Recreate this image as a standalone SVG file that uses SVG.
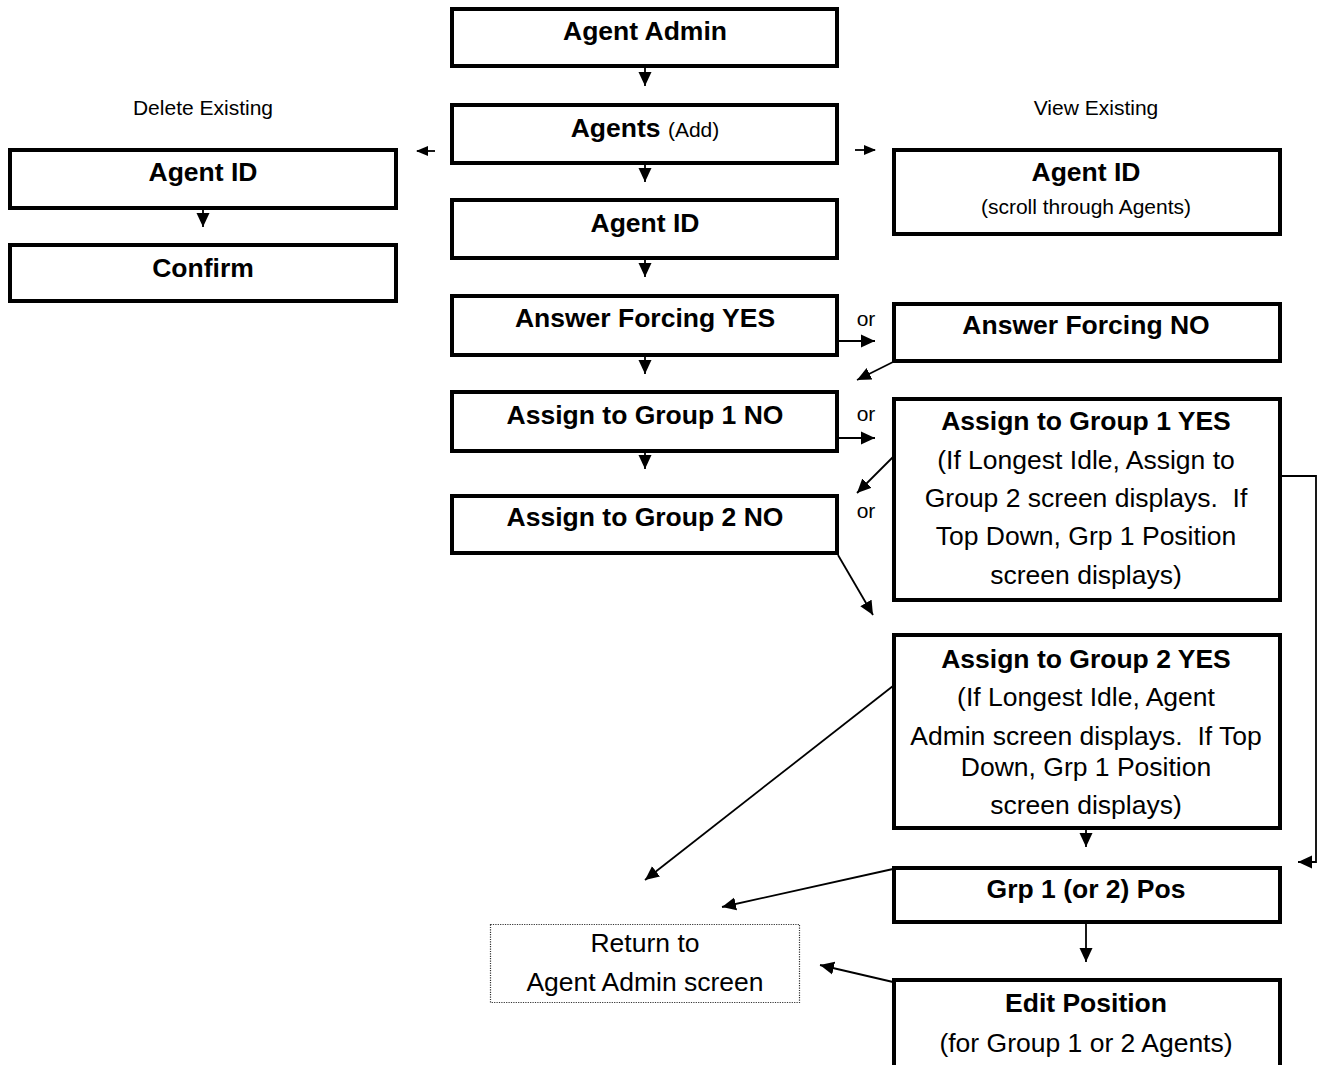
<svg xmlns="http://www.w3.org/2000/svg" width="1319" height="1065" viewBox="0 0 1319 1065">
<style>
.box{fill:#fff;stroke:#000;stroke-width:4}
.ret{fill:#fff;stroke:#333;stroke-width:1.2;stroke-dasharray:1.2 1.2}
.t{font-family:"Liberation Sans",Arial,sans-serif;font-weight:bold;font-size:26.5px;text-anchor:middle;fill:#000}
.r{font-family:"Liberation Sans",Arial,sans-serif;font-size:26.5px;text-anchor:middle;fill:#000}
.s{font-family:"Liberation Sans",Arial,sans-serif;font-size:21px;text-anchor:middle;fill:#000}
.c{fill:none;stroke:#000;stroke-width:1.8}
</style>
<defs>
<marker id="ah" markerUnits="userSpaceOnUse" markerWidth="15" markerHeight="15" refX="14" refY="7" orient="auto">
<path d="M0,0.5 L14,7 L0,13.5 Z" fill="#000"/>
</marker>
<marker id="as" markerUnits="userSpaceOnUse" markerWidth="12" markerHeight="12" refX="11" refY="6" orient="auto">
<path d="M0,1 L12,6 L0,11 Z" fill="#000"/>
</marker>
</defs>

<g id="connectors">
<line class="c" x1="645" y1="68" x2="645" y2="86" marker-end="url(#ah)"/>
<line class="c" x1="645" y1="165" x2="645" y2="182" marker-end="url(#ah)"/>
<line class="c" x1="645" y1="260" x2="645" y2="277" marker-end="url(#ah)"/>
<line class="c" x1="645" y1="356" x2="645" y2="374" marker-end="url(#ah)"/>
<line class="c" x1="645" y1="453" x2="645" y2="469" marker-end="url(#ah)"/>
<line class="c" x1="435" y1="151" x2="417" y2="151" marker-end="url(#as)"/>
<line class="c" x1="855" y1="150" x2="875" y2="150" marker-end="url(#as)"/>
<line class="c" x1="203" y1="210" x2="203" y2="227" marker-end="url(#ah)"/>
<line class="c" x1="839" y1="341" x2="875" y2="341" marker-end="url(#ah)"/>
<line class="c" x1="893" y1="362" x2="857" y2="380" marker-end="url(#ah)"/>
<line class="c" x1="839" y1="438" x2="875" y2="438" marker-end="url(#ah)"/>
<line class="c" x1="893" y1="457" x2="857" y2="493" marker-end="url(#ah)"/>
<line class="c" x1="838" y1="555" x2="873" y2="615" marker-end="url(#ah)"/>
<polyline class="c" points="1282,476 1316,476 1316,862 1298,862" marker-end="url(#ah)"/>
<line class="c" x1="1086" y1="830" x2="1086" y2="847" marker-end="url(#ah)"/>
<line class="c" x1="893" y1="686" x2="645" y2="880" marker-end="url(#ah)"/>
<line class="c" x1="893" y1="869" x2="722" y2="907" marker-end="url(#ah)"/>
<line class="c" x1="1086" y1="924" x2="1086" y2="962" marker-end="url(#ah)"/>
<line class="c" x1="893" y1="982" x2="820" y2="965" marker-end="url(#ah)"/>
</g>

<text class="s" x="203" y="115">Delete Existing</text>
<text class="s" x="1096" y="115">View Existing</text>
<text class="s" x="866" y="326">or</text>
<text class="s" x="866" y="421">or</text>
<text class="s" x="866" y="518">or</text>

<g id="agent-admin">
<rect class="box" x="452" y="9" width="385" height="57"/>
<text class="t" x="645" y="40">Agent Admin</text>
</g>
<g id="agents">
<rect class="box" x="452" y="105" width="385" height="58"/>
<text class="t" x="645" y="137">Agents <tspan style="font-weight:normal;font-size:21px">(Add)</tspan></text>
</g>
<g id="agent-id-add">
<rect class="box" x="452" y="200" width="385" height="58"/>
<text class="t" x="645" y="232">Agent ID</text>
</g>
<g id="answer-yes">
<rect class="box" x="452" y="296" width="385" height="59"/>
<text class="t" x="645" y="327">Answer Forcing YES</text>
</g>
<g id="g1-no">
<rect class="box" x="452" y="392" width="385" height="59"/>
<text class="t" x="645" y="424">Assign to Group 1 NO</text>
</g>
<g id="g2-no">
<rect class="box" x="452" y="496" width="385" height="57"/>
<text class="t" x="645" y="526">Assign to Group 2 NO</text>
</g>
<g id="agent-id-delete">
<rect class="box" x="10" y="150" width="386" height="58"/>
<text class="t" x="203" y="181">Agent ID</text>
</g>
<g id="confirm">
<rect class="box" x="10" y="245" width="386" height="56"/>
<text class="t" x="203" y="277">Confirm</text>
</g>
<g id="agent-id-view">
<rect class="box" x="894" y="150" width="386" height="84"/>
<text class="t" x="1086" y="181">Agent ID</text>
<text class="s" x="1086" y="214">(scroll through Agents)</text>
</g>
<g id="answer-no">
<rect class="box" x="894" y="304" width="386" height="57"/>
<text class="t" x="1086" y="334">Answer Forcing NO</text>
</g>
<g id="g1-yes">
<rect class="box" x="894" y="399" width="386" height="201"/>
<text class="t" x="1086" y="430">Assign to Group 1 YES</text>
<text class="r" x="1086" y="469">(If Longest Idle, Assign to</text>
<text class="r" x="1086" y="507" xml:space="preserve">Group 2 screen displays.  If</text>
<text class="r" x="1086" y="545">Top Down, Grp 1 Position</text>
<text class="r" x="1086" y="584">screen displays)</text>
</g>
<g id="g2-yes">
<rect class="box" x="894" y="635" width="386" height="193"/>
<text class="t" x="1086" y="668">Assign to Group 2 YES</text>
<text class="r" x="1086" y="706">(If Longest Idle, Agent</text>
<text class="r" x="1086" y="745" xml:space="preserve">Admin screen displays.  If Top</text>
<text class="r" x="1086" y="776">Down, Grp 1 Position</text>
<text class="r" x="1086" y="814">screen displays)</text>
</g>
<g id="grp-pos">
<rect class="box" x="894" y="868" width="386" height="54"/>
<text class="t" x="1086" y="898">Grp 1 (or 2) Pos</text>
</g>
<g id="edit-position">
<rect class="box" x="894" y="980" width="386" height="95"/>
<text class="t" x="1086" y="1012">Edit Position</text>
<text class="r" x="1086" y="1052">(for Group 1 or 2 Agents)</text>
</g>
<g id="return">
<rect class="ret" x="490.5" y="924.5" width="309" height="78"/>
<text class="r" x="645" y="952">Return to</text>
<text class="r" x="645" y="991">Agent Admin screen</text>
</g>
</svg>
